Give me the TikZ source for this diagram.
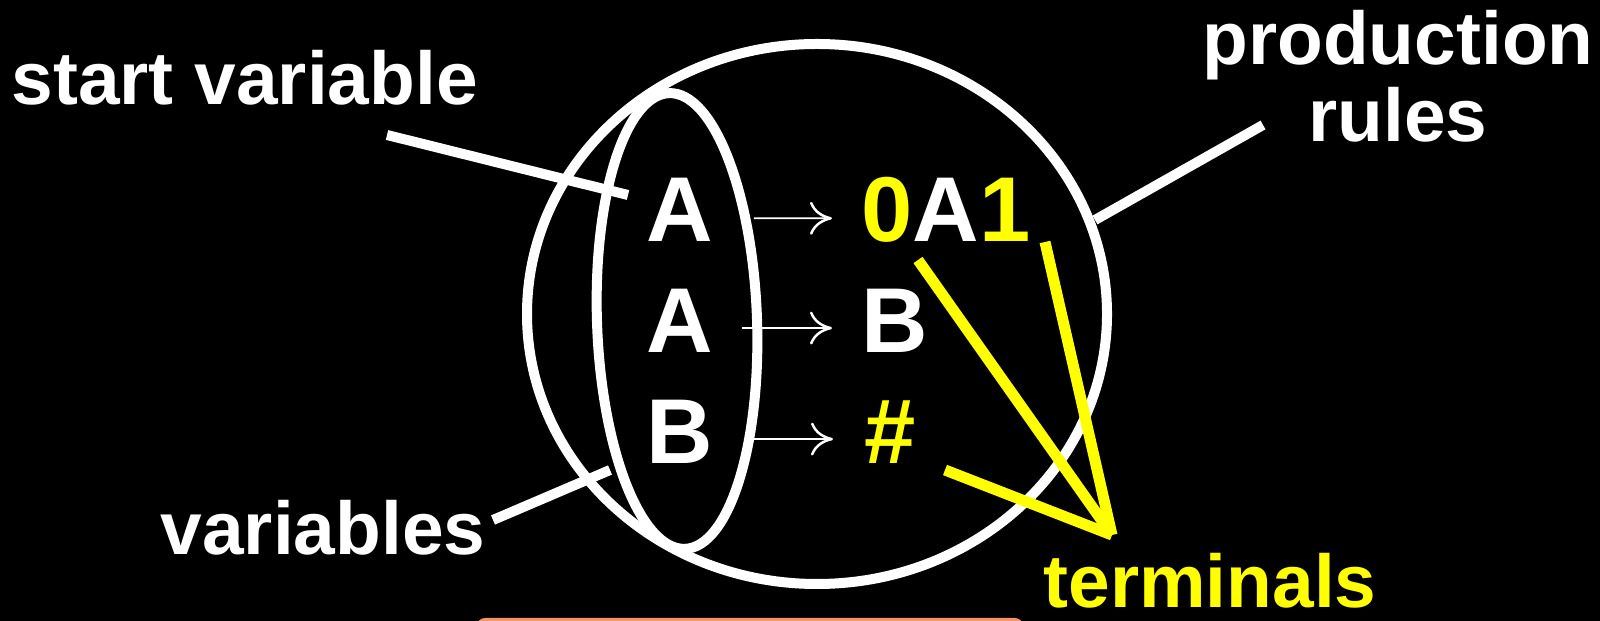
\documentclass[tikz,border=0pt]{standalone}
\usepackage{fontspec}
\setmainfont{Liberation Sans}
\usepackage{tikz}
\usetikzlibrary{positioning, arrows.meta}
\definecolor{ylw}{RGB}{255,255,0}
\definecolor{slide}{RGB}{242,150,105}

\begin{document}
\begin{tikzpicture}[
        lbl/.style={text=white, inner sep=0, font=\fontsize{21.3}{21.9}\selectfont\bfseries},
        sym/.style={text=white, inner sep=0, font=\fontsize{26.2}{28}\selectfont\bfseries},
        rim/.style={draw=white, line width=1mm},
        pointer/.style={draw=white, line width=1mm},
        tline/.style={draw=ylw, line width=1.1mm},
        prodarrow/.style={draw=white, line width=0.17mm,
            -{Computer Modern Rightarrow[length=2.2mm, width=3.3mm, line width=0.25mm]}}]
        \useasboundingbox (0,0) rectangle (16,6.21);
        \fill[black] (0,0) rectangle (16,6.21);
        \begin{scope}
            \clip (0,0) rectangle (16,6.21);
            \fill[slide, rounded corners=0.8mm] (4.77,-0.2) rectangle (10.23,0.03);
        \end{scope}

        % outer set and the set of variables
        \draw[rim] (8.17,3.07) ellipse [x radius=2.90, y radius=2.70];
        \draw[rim, rotate around={2:(6.77,3.00)}] (6.77,3.00) ellipse [x radius=0.80, y radius=2.28];

        \node[sym, anchor=base] (l1) at (6.80,3.79) {A};
        \node[sym] (l2) [below=0.46cm of l1] {A};
        \node[sym] (l3) [below=0.46cm of l2] {B};
        \node[sym] (r1) [base right=1.47cm of l1] {\textcolor{ylw}{0}A\textcolor{ylw}{1}};
        \node[sym] (r2) [base right=1.47cm of l2] {B};
        \node[sym, text=ylw] (r3) [base right=1.50cm of l3] {\#};

        \draw[prodarrow, shorten <=0.40cm, shorten >=0.29cm] ([yshift=-0.08cm]l1.east) -- ([yshift=-0.08cm]r1.west);
        \draw[prodarrow, shorten <=0.28cm, shorten >=0.29cm] ([yshift=-0.07cm]l2.east) -- ([yshift=-0.07cm]r2.west);
        \draw[prodarrow, shorten <=0.38cm, shorten >=0.31cm] ([yshift=-0.07cm]l3.east) -- ([yshift=-0.07cm]r3.west);

        \node[lbl, anchor=base west] (startlbl) at (0.11,5.16) {start variable};
        \node[lbl, align=center] (prodlbl) at (13.98,5.45) {production\\rules};
        \node[lbl, anchor=base west] (varlbl) at (1.60,0.66) {variables};
        \node[lbl, anchor=base west, text=ylw] (termlbl) at (10.43,0.13) {terminals};

        \coordinate (sv0) at (3.87,4.86);
        \coordinate (sv1) at (6.28,4.26);
        \coordinate (va0) at (4.93,1.01);
        \coordinate (va1) at (6.10,1.51);
        \coordinate (pr0) at (10.95,4.01);
        \coordinate (pr1) at (12.63,4.96);
        \draw[pointer] (sv0) -- (sv1);
        \draw[pointer] (va0) -- (va1);
        \draw[pointer] (pr0) -- (pr1);

        % terminals
        \coordinate (tm) at (11.12,0.86);
        \coordinate (t0) at (9.18,3.61);
        \coordinate (t1) at (10.45,3.79);
        \coordinate (t2) at (9.45,1.51);
        \draw[tline] (t0) -- (tm);
        \draw[tline] (t1) -- (tm);
        \draw[tline] (t2) -- (tm);
    \end{tikzpicture}
\end{document}
